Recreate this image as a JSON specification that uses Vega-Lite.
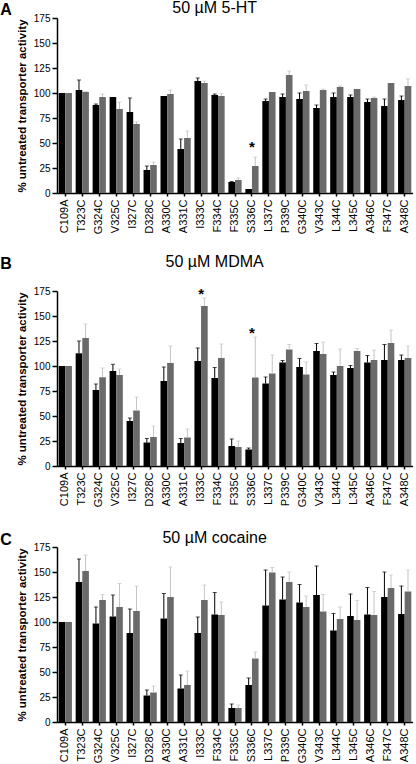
{
  "$schema": "https://vega.github.io/schema/vega-lite/v6.json",
  "padding": {"left": 0, "top": 0, "right": 0, "bottom": 0},
  "spacing": 20,
  "datasets": {
    "d": [
      {"drug": "5-HT", "mutant": "C109A", "group": "1", "value": 100, "err": null},
      {"drug": "5-HT", "mutant": "C109A", "group": "2", "value": 100, "err": null},
      {"drug": "5-HT", "mutant": "T323C", "group": "1", "value": 103, "err": 113},
      {"drug": "5-HT", "mutant": "T323C", "group": "2", "value": 101, "err": 101.5},
      {"drug": "5-HT", "mutant": "G324C", "group": "1", "value": 88, "err": 89},
      {"drug": "5-HT", "mutant": "G324C", "group": "2", "value": 96, "err": 99},
      {"drug": "5-HT", "mutant": "V325C", "group": "1", "value": 96, "err": null},
      {"drug": "5-HT", "mutant": "V325C", "group": "2", "value": 84, "err": 91},
      {"drug": "5-HT", "mutant": "I327C", "group": "1", "value": 81, "err": 95},
      {"drug": "5-HT", "mutant": "I327C", "group": "2", "value": 69, "err": 71},
      {"drug": "5-HT", "mutant": "D328C", "group": "1", "value": 23, "err": 27},
      {"drug": "5-HT", "mutant": "D328C", "group": "2", "value": 28, "err": 31},
      {"drug": "5-HT", "mutant": "A330C", "group": "1", "value": 97, "err": null},
      {"drug": "5-HT", "mutant": "A330C", "group": "2", "value": 99, "err": 103},
      {"drug": "5-HT", "mutant": "A331C", "group": "1", "value": 44, "err": 54},
      {"drug": "5-HT", "mutant": "A331C", "group": "2", "value": 55, "err": 62},
      {"drug": "5-HT", "mutant": "I333C", "group": "1", "value": 112, "err": 115},
      {"drug": "5-HT", "mutant": "I333C", "group": "2", "value": 110, "err": 112},
      {"drug": "5-HT", "mutant": "F334C", "group": "1", "value": 98, "err": 99},
      {"drug": "5-HT", "mutant": "F334C", "group": "2", "value": 97, "err": 99.5},
      {"drug": "5-HT", "mutant": "F335C", "group": "1", "value": 11, "err": 11.5},
      {"drug": "5-HT", "mutant": "F335C", "group": "2", "value": 13, "err": 15},
      {"drug": "5-HT", "mutant": "S336C", "group": "1", "value": 4, "err": null},
      {"drug": "5-HT", "mutant": "S336C", "group": "2", "value": 27, "err": 36},
      {"drug": "5-HT", "mutant": "L337C", "group": "1", "value": 92, "err": 94},
      {"drug": "5-HT", "mutant": "L337C", "group": "2", "value": 101, "err": null},
      {"drug": "5-HT", "mutant": "P339C", "group": "1", "value": 96, "err": 99},
      {"drug": "5-HT", "mutant": "P339C", "group": "2", "value": 118, "err": 122},
      {"drug": "5-HT", "mutant": "G340C", "group": "1", "value": 94, "err": 100},
      {"drug": "5-HT", "mutant": "G340C", "group": "2", "value": 102, "err": 108},
      {"drug": "5-HT", "mutant": "V343C", "group": "1", "value": 85, "err": 88},
      {"drug": "5-HT", "mutant": "V343C", "group": "2", "value": 103, "err": 104},
      {"drug": "5-HT", "mutant": "L344C", "group": "1", "value": 96, "err": 100},
      {"drug": "5-HT", "mutant": "L344C", "group": "2", "value": 106, "err": 107},
      {"drug": "5-HT", "mutant": "L345C", "group": "1", "value": 96, "err": 98},
      {"drug": "5-HT", "mutant": "L345C", "group": "2", "value": 104, "err": null},
      {"drug": "5-HT", "mutant": "A346C", "group": "1", "value": 91, "err": 94},
      {"drug": "5-HT", "mutant": "A346C", "group": "2", "value": 95, "err": 96},
      {"drug": "5-HT", "mutant": "F347C", "group": "1", "value": 87, "err": 94},
      {"drug": "5-HT", "mutant": "F347C", "group": "2", "value": 110, "err": null},
      {"drug": "5-HT", "mutant": "A348C", "group": "1", "value": 93, "err": 97},
      {"drug": "5-HT", "mutant": "A348C", "group": "2", "value": 107, "err": 114},

      {"drug": "MDMA", "mutant": "C109A", "group": "1", "value": 100, "err": null},
      {"drug": "MDMA", "mutant": "C109A", "group": "2", "value": 100, "err": null},
      {"drug": "MDMA", "mutant": "T323C", "group": "1", "value": 112.7, "err": 125},
      {"drug": "MDMA", "mutant": "T323C", "group": "2", "value": 128, "err": 142},
      {"drug": "MDMA", "mutant": "G324C", "group": "1", "value": 76, "err": 82},
      {"drug": "MDMA", "mutant": "G324C", "group": "2", "value": 88.7, "err": 98},
      {"drug": "MDMA", "mutant": "V325C", "group": "1", "value": 95, "err": 101.7},
      {"drug": "MDMA", "mutant": "V325C", "group": "2", "value": 91, "err": 97},
      {"drug": "MDMA", "mutant": "I327C", "group": "1", "value": 45, "err": 48},
      {"drug": "MDMA", "mutant": "I327C", "group": "2", "value": 55.5, "err": 69},
      {"drug": "MDMA", "mutant": "D328C", "group": "1", "value": 23.5, "err": 27.5},
      {"drug": "MDMA", "mutant": "D328C", "group": "2", "value": 29, "err": 40},
      {"drug": "MDMA", "mutant": "A330C", "group": "1", "value": 85, "err": 99},
      {"drug": "MDMA", "mutant": "A330C", "group": "2", "value": 103, "err": 120},
      {"drug": "MDMA", "mutant": "A331C", "group": "1", "value": 23, "err": 27.5},
      {"drug": "MDMA", "mutant": "A331C", "group": "2", "value": 28.5, "err": 37},
      {"drug": "MDMA", "mutant": "I333C", "group": "1", "value": 105, "err": 118},
      {"drug": "MDMA", "mutant": "I333C", "group": "2", "value": 160, "err": 168},
      {"drug": "MDMA", "mutant": "F334C", "group": "1", "value": 88, "err": 98.5},
      {"drug": "MDMA", "mutant": "F334C", "group": "2", "value": 108, "err": 122},
      {"drug": "MDMA", "mutant": "F335C", "group": "1", "value": 20, "err": 27},
      {"drug": "MDMA", "mutant": "F335C", "group": "2", "value": 19, "err": 25},
      {"drug": "MDMA", "mutant": "S336C", "group": "1", "value": 16.5, "err": 18},
      {"drug": "MDMA", "mutant": "S336C", "group": "2", "value": 88.5, "err": 129},
      {"drug": "MDMA", "mutant": "L337C", "group": "1", "value": 82.5, "err": 89},
      {"drug": "MDMA", "mutant": "L337C", "group": "2", "value": 92.5, "err": 111},
      {"drug": "MDMA", "mutant": "P339C", "group": "1", "value": 103.5, "err": 105.5},
      {"drug": "MDMA", "mutant": "P339C", "group": "2", "value": 116.5, "err": 121.5},
      {"drug": "MDMA", "mutant": "G340C", "group": "1", "value": 99, "err": 107.5},
      {"drug": "MDMA", "mutant": "G340C", "group": "2", "value": 91.5, "err": 104},
      {"drug": "MDMA", "mutant": "V343C", "group": "1", "value": 115, "err": 122.5},
      {"drug": "MDMA", "mutant": "V343C", "group": "2", "value": 112, "err": 124},
      {"drug": "MDMA", "mutant": "L344C", "group": "1", "value": 91, "err": 94},
      {"drug": "MDMA", "mutant": "L344C", "group": "2", "value": 100, "err": 117},
      {"drug": "MDMA", "mutant": "L345C", "group": "1", "value": 98, "err": 100.5},
      {"drug": "MDMA", "mutant": "L345C", "group": "2", "value": 115, "err": 117.5},
      {"drug": "MDMA", "mutant": "A346C", "group": "1", "value": 103.5, "err": 110.5},
      {"drug": "MDMA", "mutant": "A346C", "group": "2", "value": 106, "err": 116},
      {"drug": "MDMA", "mutant": "F347C", "group": "1", "value": 106, "err": 121.5},
      {"drug": "MDMA", "mutant": "F347C", "group": "2", "value": 123, "err": 136},
      {"drug": "MDMA", "mutant": "A348C", "group": "1", "value": 106, "err": 111},
      {"drug": "MDMA", "mutant": "A348C", "group": "2", "value": 108, "err": 120},

      {"drug": "cocaine", "mutant": "C109A", "group": "1", "value": 100, "err": null},
      {"drug": "cocaine", "mutant": "C109A", "group": "2", "value": 100, "err": null},
      {"drug": "cocaine", "mutant": "T323C", "group": "1", "value": 140, "err": 163},
      {"drug": "cocaine", "mutant": "T323C", "group": "2", "value": 151, "err": 167},
      {"drug": "cocaine", "mutant": "G324C", "group": "1", "value": 98.5, "err": 115},
      {"drug": "cocaine", "mutant": "G324C", "group": "2", "value": 122, "err": 127.5},
      {"drug": "cocaine", "mutant": "V325C", "group": "1", "value": 105.5, "err": 127},
      {"drug": "cocaine", "mutant": "V325C", "group": "2", "value": 115, "err": 138.5},
      {"drug": "cocaine", "mutant": "I327C", "group": "1", "value": 89, "err": 113},
      {"drug": "cocaine", "mutant": "I327C", "group": "2", "value": 111, "err": 136},
      {"drug": "cocaine", "mutant": "D328C", "group": "1", "value": 26.5, "err": 32},
      {"drug": "cocaine", "mutant": "D328C", "group": "2", "value": 29.5, "err": 36},
      {"drug": "cocaine", "mutant": "A330C", "group": "1", "value": 103.5, "err": 128.5},
      {"drug": "cocaine", "mutant": "A330C", "group": "2", "value": 125, "err": 155},
      {"drug": "cocaine", "mutant": "A331C", "group": "1", "value": 33.5, "err": 47},
      {"drug": "cocaine", "mutant": "A331C", "group": "2", "value": 37, "err": 51},
      {"drug": "cocaine", "mutant": "I333C", "group": "1", "value": 89, "err": 105},
      {"drug": "cocaine", "mutant": "I333C", "group": "2", "value": 122, "err": 137},
      {"drug": "cocaine", "mutant": "F334C", "group": "1", "value": 107.5, "err": 129.5},
      {"drug": "cocaine", "mutant": "F334C", "group": "2", "value": 107, "err": 120},
      {"drug": "cocaine", "mutant": "F335C", "group": "1", "value": 14, "err": 18},
      {"drug": "cocaine", "mutant": "F335C", "group": "2", "value": 14, "err": 17},
      {"drug": "cocaine", "mutant": "S336C", "group": "1", "value": 37, "err": 44},
      {"drug": "cocaine", "mutant": "S336C", "group": "2", "value": 63.5, "err": 70},
      {"drug": "cocaine", "mutant": "L337C", "group": "1", "value": 116.5, "err": 152},
      {"drug": "cocaine", "mutant": "L337C", "group": "2", "value": 149.5, "err": 154.5},
      {"drug": "cocaine", "mutant": "P339C", "group": "1", "value": 122.5, "err": 145},
      {"drug": "cocaine", "mutant": "P339C", "group": "2", "value": 140, "err": 150},
      {"drug": "cocaine", "mutant": "G340C", "group": "1", "value": 119.5, "err": 137.5},
      {"drug": "cocaine", "mutant": "G340C", "group": "2", "value": 115, "err": 126},
      {"drug": "cocaine", "mutant": "V343C", "group": "1", "value": 127, "err": 156},
      {"drug": "cocaine", "mutant": "V343C", "group": "2", "value": 110.5, "err": 127.5},
      {"drug": "cocaine", "mutant": "L344C", "group": "1", "value": 91.5, "err": 108.5},
      {"drug": "cocaine", "mutant": "L344C", "group": "2", "value": 103, "err": 115},
      {"drug": "cocaine", "mutant": "L345C", "group": "1", "value": 106, "err": 128},
      {"drug": "cocaine", "mutant": "L345C", "group": "2", "value": 102, "err": 121.5},
      {"drug": "cocaine", "mutant": "A346C", "group": "1", "value": 107.5, "err": 134.5},
      {"drug": "cocaine", "mutant": "A346C", "group": "2", "value": 107, "err": 130.5},
      {"drug": "cocaine", "mutant": "F347C", "group": "1", "value": 125, "err": 150},
      {"drug": "cocaine", "mutant": "F347C", "group": "2", "value": 134, "err": 147},
      {"drug": "cocaine", "mutant": "A348C", "group": "1", "value": 108, "err": 136},
      {"drug": "cocaine", "mutant": "A348C", "group": "2", "value": 130.5, "err": 152}
    ],
    "stars": [
      {"drug": "5-HT", "mutant": "S336C", "y": 41, "label": "*"},
      {"drug": "MDMA", "mutant": "I333C", "y": 167, "label": "*"},
      {"drug": "MDMA", "mutant": "S336C", "y": 128.5, "label": "*"}
    ]
  },
  "vconcat": [
    {
      "title": {"text": "A", "anchor": "start", "frame": "bounds", "fontSize": 16, "fontWeight": "bold", "offset": -18, "dx": -16},
      "vconcat": [
        {
          "title": {"text": "50 µM 5-HT", "anchor": "middle", "frame": "bounds", "fontSize": 16, "fontWeight": "normal", "offset": -3},
          "width": 356,
          "height": 175,
          "resolve": {"scale": {"color": "independent"}},
          "layer": [
            {
              "data": {"name": "d"},
              "transform": [{"filter": "datum.drug === '5-HT'"}],
              "mark": {"type": "bar"},
              "encoding": {
                "x": {"field": "mutant", "type": "nominal", "sort": ["C109A","T323C","G324C","V325C","I327C","D328C","A330C","A331C","I333C","F334C","F335C","S336C","L337C","P339C","G340C","V343C","L344C","L345C","A346C","F347C","A348C"], "scale": {"paddingInner": 0.22, "paddingOuter": 0.1}, "axis": {"title": null}},
                "xOffset": {"field": "group", "type": "nominal"},
                "y": {"field": "value", "type": "quantitative", "scale": {"domain": [0, 175], "nice": false}, "axis": {"values": [0,25,50,75,100,125,150,175], "tickCount": 10, "labelOverlap": false, "title": "% untreated transporter activity"}},
                "color": {"field": "group", "type": "nominal", "scale": {"domain": ["1","2"], "range": ["#000000", "#6a6a6a"]}, "legend": null}
              }
            },
            {
              "data": {"name": "d"},
              "transform": [{"filter": "datum.drug === '5-HT' && isValid(datum.err)"}],
              "mark": {"type": "rule", "strokeWidth": 1},
              "encoding": {
                "x": {"field": "mutant", "type": "nominal", "sort": ["C109A","T323C","G324C","V325C","I327C","D328C","A330C","A331C","I333C","F334C","F335C","S336C","L337C","P339C","G340C","V343C","L344C","L345C","A346C","F347C","A348C"], "axis": {"title": null}},
                "xOffset": {"field": "group", "type": "nominal"},
                "y": {"field": "value", "type": "quantitative", "axis": {"values": [0,25,50,75,100,125,150,175], "tickCount": 10, "labelOverlap": false, "title": "% untreated transporter activity"}},
                "y2": {"field": "err"},
                "color": {"field": "group", "type": "nominal", "scale": {"domain": ["1","2"], "range": ["#000000", "#c4c4c4"]}, "legend": null}
              }
            },
            {
              "data": {"name": "d"},
              "transform": [{"filter": "datum.drug === '5-HT' && isValid(datum.err)"}],
              "mark": {"type": "tick", "size": 4, "thickness": 1},
              "encoding": {
                "x": {"field": "mutant", "type": "nominal", "sort": ["C109A","T323C","G324C","V325C","I327C","D328C","A330C","A331C","I333C","F334C","F335C","S336C","L337C","P339C","G340C","V343C","L344C","L345C","A346C","F347C","A348C"], "axis": {"title": null}},
                "xOffset": {"field": "group", "type": "nominal"},
                "y": {"field": "err", "type": "quantitative", "axis": {"values": [0,25,50,75,100,125,150,175], "tickCount": 10, "labelOverlap": false, "title": "% untreated transporter activity"}},
                "color": {"field": "group", "type": "nominal", "scale": {"domain": ["1","2"], "range": ["#000000", "#c4c4c4"]}, "legend": null}
              }
            },
            {
              "data": {"name": "stars"},
              "transform": [{"filter": "datum.drug === '5-HT'"}],
              "mark": {"type": "text", "fontSize": 15, "fontWeight": "bold", "baseline": "alphabetic", "color": "black"},
              "encoding": {
                "x": {"field": "mutant", "type": "nominal", "sort": ["C109A","T323C","G324C","V325C","I327C","D328C","A330C","A331C","I333C","F334C","F335C","S336C","L337C","P339C","G340C","V343C","L344C","L345C","A346C","F347C","A348C"], "axis": {"title": null}},
                "y": {"field": "y", "type": "quantitative", "axis": {"values": [0,25,50,75,100,125,150,175], "tickCount": 10, "labelOverlap": false, "title": "% untreated transporter activity"}},
                "text": {"field": "label"}
              }
            }
          ]
        }
      ]
    },
    {
      "spacing": 23,
      "vconcat": [
        {
          "title": {"text": "B", "anchor": "start", "frame": "bounds", "fontSize": 16, "fontWeight": "bold", "offset": -18, "dx": -16},
          "vconcat": [
            {
              "title": {"text": "50 µM MDMA", "anchor": "middle", "frame": "bounds", "fontSize": 16, "fontWeight": "normal", "offset": 16},
              "width": 356,
              "height": 175,
              "resolve": {"scale": {"color": "independent"}},
              "layer": [
                {
                  "data": {"name": "d"},
                  "transform": [{"filter": "datum.drug === 'MDMA'"}],
                  "mark": {"type": "bar"},
                  "encoding": {
                    "x": {"field": "mutant", "type": "nominal", "sort": ["C109A","T323C","G324C","V325C","I327C","D328C","A330C","A331C","I333C","F334C","F335C","S336C","L337C","P339C","G340C","V343C","L344C","L345C","A346C","F347C","A348C"], "scale": {"paddingInner": 0.22, "paddingOuter": 0.1}, "axis": {"title": null}},
                    "xOffset": {"field": "group", "type": "nominal"},
                    "y": {"field": "value", "type": "quantitative", "scale": {"domain": [0, 175], "nice": false}, "axis": {"values": [0,25,50,75,100,125,150,175], "tickCount": 10, "labelOverlap": false, "title": "% untreated transporter activity"}},
                    "color": {"field": "group", "type": "nominal", "scale": {"domain": ["1","2"], "range": ["#000000", "#6a6a6a"]}, "legend": null}
                  }
                },
                {
                  "data": {"name": "d"},
                  "transform": [{"filter": "datum.drug === 'MDMA' && isValid(datum.err)"}],
                  "mark": {"type": "rule", "strokeWidth": 1},
                  "encoding": {
                    "x": {"field": "mutant", "type": "nominal", "sort": ["C109A","T323C","G324C","V325C","I327C","D328C","A330C","A331C","I333C","F334C","F335C","S336C","L337C","P339C","G340C","V343C","L344C","L345C","A346C","F347C","A348C"], "axis": {"title": null}},
                    "xOffset": {"field": "group", "type": "nominal"},
                    "y": {"field": "value", "type": "quantitative", "axis": {"values": [0,25,50,75,100,125,150,175], "tickCount": 10, "labelOverlap": false, "title": "% untreated transporter activity"}},
                    "y2": {"field": "err"},
                    "color": {"field": "group", "type": "nominal", "scale": {"domain": ["1","2"], "range": ["#000000", "#c4c4c4"]}, "legend": null}
                  }
                },
                {
                  "data": {"name": "d"},
                  "transform": [{"filter": "datum.drug === 'MDMA' && isValid(datum.err)"}],
                  "mark": {"type": "tick", "size": 4, "thickness": 1},
                  "encoding": {
                    "x": {"field": "mutant", "type": "nominal", "sort": ["C109A","T323C","G324C","V325C","I327C","D328C","A330C","A331C","I333C","F334C","F335C","S336C","L337C","P339C","G340C","V343C","L344C","L345C","A346C","F347C","A348C"], "axis": {"title": null}},
                    "xOffset": {"field": "group", "type": "nominal"},
                    "y": {"field": "err", "type": "quantitative", "axis": {"values": [0,25,50,75,100,125,150,175], "tickCount": 10, "labelOverlap": false, "title": "% untreated transporter activity"}},
                    "color": {"field": "group", "type": "nominal", "scale": {"domain": ["1","2"], "range": ["#000000", "#c4c4c4"]}, "legend": null}
                  }
                },
                {
                  "data": {"name": "stars"},
                  "transform": [{"filter": "datum.drug === 'MDMA'"}],
                  "mark": {"type": "text", "fontSize": 15, "fontWeight": "bold", "baseline": "alphabetic", "color": "black"},
                  "encoding": {
                    "x": {"field": "mutant", "type": "nominal", "sort": ["C109A","T323C","G324C","V325C","I327C","D328C","A330C","A331C","I333C","F334C","F335C","S336C","L337C","P339C","G340C","V343C","L344C","L345C","A346C","F347C","A348C"], "axis": {"title": null}},
                    "y": {"field": "y", "type": "quantitative", "axis": {"values": [0,25,50,75,100,125,150,175], "tickCount": 10, "labelOverlap": false, "title": "% untreated transporter activity"}},
                    "text": {"field": "label"}
                  }
                }
              ]
            }
          ]
        },
        {
          "title": {"text": "C", "anchor": "start", "frame": "bounds", "fontSize": 16, "fontWeight": "bold", "offset": -18, "dx": -16},
          "vconcat": [
            {
              "title": {"text": "50 µM cocaine", "anchor": "middle", "frame": "bounds", "fontSize": 16, "fontWeight": "normal", "offset": -4},
              "width": 356,
              "height": 175,
              "resolve": {"scale": {"color": "independent"}},
              "layer": [
                {
                  "data": {"name": "d"},
                  "transform": [{"filter": "datum.drug === 'cocaine'"}],
                  "mark": {"type": "bar"},
                  "encoding": {
                    "x": {"field": "mutant", "type": "nominal", "sort": ["C109A","T323C","G324C","V325C","I327C","D328C","A330C","A331C","I333C","F334C","F335C","S336C","L337C","P339C","G340C","V343C","L344C","L345C","A346C","F347C","A348C"], "scale": {"paddingInner": 0.22, "paddingOuter": 0.1}, "axis": {"title": null}},
                    "xOffset": {"field": "group", "type": "nominal"},
                    "y": {"field": "value", "type": "quantitative", "scale": {"domain": [0, 175], "nice": false}, "axis": {"values": [0,25,50,75,100,125,150,175], "tickCount": 10, "labelOverlap": false, "title": "% untreated transporter activity"}},
                    "color": {"field": "group", "type": "nominal", "scale": {"domain": ["1","2"], "range": ["#000000", "#6a6a6a"]}, "legend": null}
                  }
                },
                {
                  "data": {"name": "d"},
                  "transform": [{"filter": "datum.drug === 'cocaine' && isValid(datum.err)"}],
                  "mark": {"type": "rule", "strokeWidth": 1},
                  "encoding": {
                    "x": {"field": "mutant", "type": "nominal", "sort": ["C109A","T323C","G324C","V325C","I327C","D328C","A330C","A331C","I333C","F334C","F335C","S336C","L337C","P339C","G340C","V343C","L344C","L345C","A346C","F347C","A348C"], "axis": {"title": null}},
                    "xOffset": {"field": "group", "type": "nominal"},
                    "y": {"field": "value", "type": "quantitative", "axis": {"values": [0,25,50,75,100,125,150,175], "tickCount": 10, "labelOverlap": false, "title": "% untreated transporter activity"}},
                    "y2": {"field": "err"},
                    "color": {"field": "group", "type": "nominal", "scale": {"domain": ["1","2"], "range": ["#000000", "#c4c4c4"]}, "legend": null}
                  }
                },
                {
                  "data": {"name": "d"},
                  "transform": [{"filter": "datum.drug === 'cocaine' && isValid(datum.err)"}],
                  "mark": {"type": "tick", "size": 4, "thickness": 1},
                  "encoding": {
                    "x": {"field": "mutant", "type": "nominal", "sort": ["C109A","T323C","G324C","V325C","I327C","D328C","A330C","A331C","I333C","F334C","F335C","S336C","L337C","P339C","G340C","V343C","L344C","L345C","A346C","F347C","A348C"], "axis": {"title": null}},
                    "xOffset": {"field": "group", "type": "nominal"},
                    "y": {"field": "err", "type": "quantitative", "axis": {"values": [0,25,50,75,100,125,150,175], "tickCount": 10, "labelOverlap": false, "title": "% untreated transporter activity"}},
                    "color": {"field": "group", "type": "nominal", "scale": {"domain": ["1","2"], "range": ["#000000", "#c4c4c4"]}, "legend": null}
                  }
                }
              ]
            }
          ]
        }
      ]
    }
  ],
  "config": {
    "font": "Liberation Sans",
    "view": {"stroke": null},
    "title": {"color": "black", "font": "Liberation Sans"},
    "axis": {"grid": false, "domainColor": "black", "tickColor": "black", "labelColor": "black", "titleColor": "black", "domainWidth": 1.5, "tickWidth": 1.5, "labelFont": "Liberation Sans", "titleFont": "Liberation Sans"},
    "axisX": {"labelAngle": -90, "labelFontSize": 11, "tickSize": 3, "labelPadding": 3, "labelAlign": "right", "labelBaseline": "middle"},
    "axisY": {"labelFontSize": 10, "tickSize": 5, "labelPadding": 2, "titleFontSize": 11.5, "titleFontWeight": "bold", "titlePadding": 6, "labelOverlap": false, "tickCount": 10}
  }
}
